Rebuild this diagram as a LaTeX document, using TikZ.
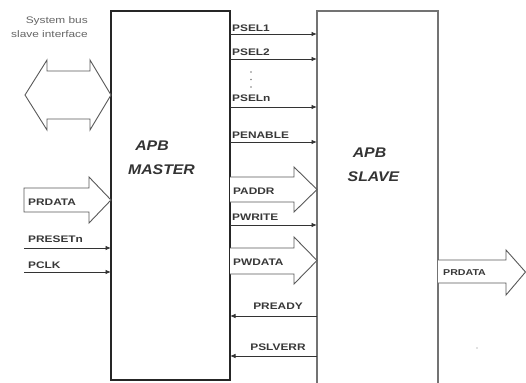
\documentclass[tikz,border=0pt]{standalone}
\usepackage{fontspec}
\setmainfont{Liberation Sans}
\newfontfamily\sigfont[FakeStretch=1.25]{Liberation Sans}
\newfontfamily\ttlfont[FakeStretch=1.13]{Liberation Sans}
\usetikzlibrary{arrows.meta}
\tikzset{
  box/.style={draw, line width=1.3pt, inner sep=0pt, outer sep=0pt},
  sig/.style={draw=black!80, line width=0.9pt, -{Latex[length=5.5pt,width=4.5pt]}},
  lbl/.style={font=\sigfont\bfseries\fontsize{9.5}{10}\selectfont, text=black!78, inner sep=0pt, anchor=base west},
  ttl/.style={font=\ttlfont\bfseries\itshape\fontsize{14}{16}\selectfont, text=black!80, inner sep=0pt},
  sys/.style={font=\sigfont\fontsize{9.5}{10}\selectfont, text=black!60, inner sep=0pt, anchor=base east},
  blk/.style={draw=black!65, line width=0.9pt, fill=white, line join=miter},
  dotm/.style={fill=black!50, draw=none}
}
\begin{document}
\begin{tikzpicture}[x=1pt,y=-1pt]
\useasboundingbox[fill=white] (0,0) rectangle (526,382);
% boxes
\node[box, draw=black!85, minimum width=119pt, minimum height=369pt] (master) at (170.5,195.5) {};
\node[box, draw=black!55, minimum width=121pt, minimum height=373pt] (slave) at (377.5,197.5) {};
% titles
\node[ttl] (mt1) at (152,146) {APB};
\node[ttl] (mt2) at (161.5,170) {MASTER};
\node[ttl] (st1) at (369.5,153) {APB};
\node[ttl] (st2) at (373.5,177) {SLAVE};
% system bus text
\node[sys] (sb1) at (88,23.5) {System bus};
\node[sys] (sb2) at (88,37.5) {slave interface};
% bidirectional block arrow
\draw[blk] (25,95) -- (47,60) -- (47,71) -- (90,71) -- (90,60) -- (111,95)
  -- (90,130) -- (90,119) -- (47,119) -- (47,130) -- cycle;
% PRDATA input block arrow
\draw[blk] (24,188) -- (89,188) -- (89,177) -- (111,200) -- (89,223) -- (89,212) -- (24,212) -- cycle;
\node[lbl] (prdin) at (28,205.5) {PRDATA};
% left single signals
\coordinate (prst) at (24,248);
\coordinate (pclk) at (24,272);
\draw[sig] (prst) -- (prst -| master.west);
\draw[sig] (pclk) -- (pclk -| master.west);
\node[lbl] (lprst) at (28,242.5) {PRESETn};
\node[lbl] (lpclk) at (28,268.5) {PCLK};
% right signals master -> slave
\coordinate (y1) at (0,34);
\coordinate (y2) at (0,59);
\coordinate (yn) at (0,107);
\coordinate (ye) at (0,142);
\coordinate (yw) at (0,225);
\coordinate (yr) at (0,316);
\coordinate (ys) at (0,356);
\draw[sig] (master.east |- y1) -- (slave.west |- y1);
\draw[sig] (master.east |- y2) -- (slave.west |- y2);
\draw[sig] (master.east |- yn) -- (slave.west |- yn);
\draw[sig] (master.east |- ye) -- (slave.west |- ye);
\draw[sig] (master.east |- yw) -- (slave.west |- yw);
\draw[sig] (slave.west |- yr) -- (master.east |- yr);
\draw[sig] (slave.west |- ys) -- (master.east |- ys);
\node[lbl] (lps1) at (232,31.5) {PSEL1};
\node[lbl] (lps2) at (232,55.5) {PSEL2};
\node[lbl] (lpsn) at (232,101.5) {PSELn};
\node[lbl] (lpen) at (232,138.5) {PENABLE};
\node[lbl] (lpwr) at (232,220.5) {PWRITE};
\node[lbl, anchor=base] (lprd) at (278,309.5) {PREADY};
\node[lbl, anchor=base] (lpsl) at (278,350.5) {PSLVERR};
% dots
\fill[dotm] (251,72) circle (0.8);
\fill[dotm] (251,79.5) circle (0.8);
\fill[dotm] (251,87) circle (0.8);
% PADDR block arrow
\draw[blk] (230,177) -- (294,177) -- (294,167) -- (317,189.5) -- (294,212) -- (294,202) -- (230,202);
\node[lbl] (lpad) at (233,194.5) {PADDR};
% PWDATA block arrow
\draw[blk] (230,248) -- (294,248) -- (294,237) -- (317,260.5) -- (294,284) -- (294,274) -- (230,274);
\node[lbl] (lpwd) at (233,265.5) {PWDATA};
% PRDATA output block arrow
\draw[blk] (438,260) -- (506,260) -- (506,250) -- (525.5,272) -- (506,295) -- (506,283) -- (438,283);
\node[lbl, font=\sigfont\bfseries\fontsize{8.5}{10}\selectfont] (prdout) at (443,275.5) {PRDATA};
% stray dot
\fill[dotm] (477,348) circle (0.7);
\end{tikzpicture}
\end{document}
